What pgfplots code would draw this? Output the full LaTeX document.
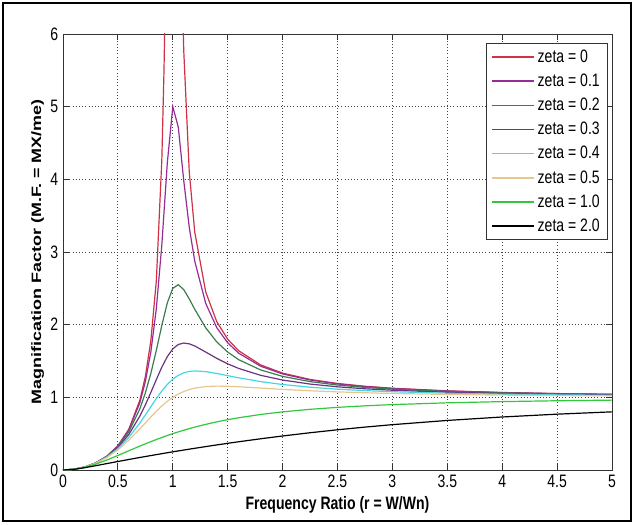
\documentclass[border=0pt]{standalone}
\usepackage{fontspec}
\setmainfont{Liberation Sans}[FakeStretch=0.78]
\newfontfamily\ylabfont{Liberation Sans}[FakeStretch=1.32]
\usepackage{pgfplots}
\pgfplotsset{compat=1.18}
\usepackage{pgfplotstable}

\definecolor{zA}{RGB}{205,50,70}
\definecolor{zB}{RGB}{150,45,150}
\definecolor{zC}{RGB}{60,125,80}
\definecolor{zD}{RGB}{110,50,130}
\definecolor{zE}{RGB}{70,215,225}
\definecolor{zF}{RGB}{232,198,145}
\definecolor{zG}{RGB}{50,200,60}

% magnification factor MX/me
\pgfplotstableread{
r     z01    z02    z03    z04    z05    z10    z20
0     0      0      0      0      0      0      0
0.1   0.0101 0.0101 0.0101 0.0101 0.0101 0.0099 0.0094
0.2   0.0416 0.0415 0.0413 0.0411 0.0408 0.0385 0.0320
0.3   0.0987 0.0981 0.0970 0.0956 0.0939 0.0826 0.0598
0.4   0.1896 0.1871 0.1831 0.1780 0.1720 0.1379 0.0885
0.5   0.3304 0.3221 0.3095 0.2941 0.2774 0.2000 0.1170
0.6   0.5529 0.5267 0.4903 0.4500 0.4104 0.2647 0.1449
0.7   0.9265 0.8422 0.7417 0.6469 0.5658 0.3289 0.1722
0.75  1.2162 1.0604 0.8962 0.7575 0.6478 0.3600 0.1855
0.8   1.6246 1.3287 1.0667 0.8716 0.7295 0.3902 0.1987
0.85  2.2201 1.6463 1.2444 0.9837 0.8080 0.4194 0.2118
0.9   3.0948 1.9899 1.4150 1.0878 0.8806 0.4475 0.2247
0.95  4.2260 2.3005 1.5607 1.1778 0.9450 0.4744 0.2374
1.0   5.0000 2.5000 1.6667 1.2500 1.0000 0.5000 0.2500
1.05  4.7180 2.5501 1.7273 1.3028 1.0450 0.5244 0.2624
1.1   3.9784 2.4818 1.7471 1.3374 1.0805 0.5475 0.2747
1.15  3.3386 2.3541 1.7363 1.3566 1.1073 0.5694 0.2868
1.2   2.8731 2.2115 1.7066 1.3636 1.1267 0.5902 0.2987
1.3   2.2920 1.9560 1.6228 1.3541 1.1483 0.6283 0.3222
1.4   1.9600 1.7635 1.5365 1.3287 1.1546 0.6622 0.3450
1.5   1.7503 1.6227 1.4608 1.2985 1.1523 0.6923 0.3671
1.6   1.6076 1.5182 1.3976 1.2686 1.1456 0.7191 0.3886
1.8   1.4281 1.3770 1.3029 1.2167 1.1275 0.7642 0.4297
2.0   1.3216 1.2883 1.2380 1.1765 1.1094 0.8000 0.4682
2.25  1.2386 1.2166 1.1826 1.1393 1.0901 0.8351 0.5127
2.5   1.1851 1.1694 1.1447 1.1125 1.0748 0.8621 0.5534
2.75  1.1484 1.1365 1.1176 1.0926 1.0629 0.8832 0.5904
3.0   1.1218 1.1125 1.0976 1.0775 1.0534 0.9000 0.6240
3.5   1.0868 1.0805 1.0704 1.0567 1.0397 0.9245 0.6821
4.0   1.0652 1.0607 1.0533 1.0432 1.0307 0.9412 0.7295
4.5   1.0508 1.0474 1.0418 1.0340 1.0243 0.9529 0.7684
5.0   1.0408 1.0381 1.0336 1.0275 1.0198 0.9615 0.8002
}\mfdata

\begin{document}
\begin{tikzpicture}
\begin{axis}[
  name=ax,
  scale only axis, width=411.75pt, height=327pt,
  xmin=0, xmax=5, ymin=0, ymax=6,
  xtick={0,0.5,1,1.5,2,2.5,3,3.5,4,4.5,5},
  ytick={0,1,2,3,4,5,6},
  grid=major,
  major grid style={dotted, black!75, line width=0.7pt},
  tick align=inside, major tick length=4.5pt,
  axis line style={black!80, line width=0.7pt},
  every tick/.style={black!80, line width=0.7pt},
  /pgf/number format/assume math mode=true,
  tick label style={font=\fontsize{13.5}{15}\selectfont},
  xlabel style={font=\fontsize{13.5}{15}\selectfont\bfseries},
  ylabel style={font=\ylabfont\fontsize{10.2}{12}\selectfont\bfseries, yshift=-2pt},
  xlabel={Frequency Ratio (r = W/Wn)},
  ylabel={Magnification Factor (M.F. = MX/me)},
  unbounded coords=jump,
  every axis plot/.append style={line width=0.9pt},
  legend cell align=left,
  legend image code/.code={\draw[#1, line width=1.1pt] (0pt,0pt) -- (31.5pt,0pt);},
  legend style={at={(0.9927,0.979)}, anchor=north east,
    draw=black!80, fill=white, font=\fontsize{13.5}{15}\selectfont,
    row sep=3.2pt, inner xsep=4pt, inner ysep=2.7pt},
]
\addplot[zA] coordinates {
  (0,0) (0.1,0.0101) (0.2,0.0417) (0.3,0.0989) (0.4,0.1905) (0.5,0.3333)
  (0.6,0.5625) (0.7,0.9608) (0.75,1.2857) (0.8,1.7778) (0.85,2.6036)
  (0.9,4.2632) (0.92,5.5104) (0.93,6.4020) (1.0,inf) (1.09,6.3165)
  (1.1,5.7619) (1.15,4.1008) (1.2,3.2727) (1.3,2.4493) (1.4,2.0417)
  (1.5,1.8) (1.6,1.6410) (1.8,1.4464) (2.0,1.3333) (2.25,1.2462)
  (2.5,1.1905) (2.75,1.1524) (3.0,1.125) (3.5,1.0889) (4.0,1.0667)
  (4.5,1.0519) (5.0,1.0417)};
\addlegendentry{zeta = 0}
\addplot[zB] table[x=r, y=z01] {\mfdata};
\addlegendentry{zeta = 0.1}
\addplot[zC] table[x=r, y=z02] {\mfdata};
\addlegendentry{zeta = 0.2}
\addplot[zD] table[x=r, y=z03] {\mfdata};
\addlegendentry{zeta = 0.3}
\addplot[zE] table[x=r, y=z04] {\mfdata};
\addlegendentry{zeta = 0.4}
\addplot[zF] table[x=r, y=z05] {\mfdata};
\addlegendentry{zeta = 0.5}
\addplot[zG] table[x=r, y=z10] {\mfdata};
\addlegendentry{zeta = 1.0}
\addplot[black] table[x=r, y=z20] {\mfdata};
\addlegendentry{zeta = 2.0}
\end{axis}
\draw[line width=1pt] ([xshift=-45pt,yshift=-38.25pt]ax.south west)
  rectangle ([xshift=14.25pt,yshift=23.25pt]ax.north east);
\pgfresetboundingbox
\path ([xshift=-47.25pt,yshift=-40.5pt]ax.south west)
  rectangle ([xshift=16.5pt,yshift=25.5pt]ax.north east);
\end{tikzpicture}
\end{document}
